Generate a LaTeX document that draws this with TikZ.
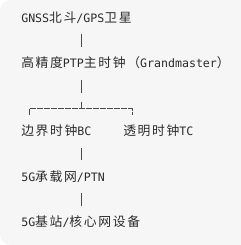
\documentclass[tikz,border=0pt]{standalone}
\usepackage{fontspec}
\setmainfont{DejaVu Sans Mono}
\newfontfamily\cjkfont{Noto Sans CJK SC}[LetterSpace=13]
\newcommand\zh[1]{{\cjkfont\fontsize{9.6pt}{12pt}\selectfont #1}}
\definecolor{codebg}{HTML}{F6F6F6}
\definecolor{codefg}{HTML}{2B2B2B}
\definecolor{rulefg}{HTML}{4A4A4A}

\begin{document}
\begin{tikzpicture}[x=0.75pt, y=-0.75pt,
    line/.style={anchor=west, inner sep=0pt, text=codefg,
      font=\fontsize{8.7pt}{10pt}\selectfont, text height=8pt, text depth=1.6pt},
    bar/.style={rulefg, line width=0.8pt, shorten <=7.35pt, shorten >=7.35pt},
    branch/.style={rulefg, line width=0.6pt, dash pattern=on 4.6pt off 0.65pt}]
  % Page and code block background.
  \useasboundingbox (0,0) rectangle (241,245);
  \fill[white] (0,0) rectangle (241,245);
  \fill[codebg, rounded corners=8pt] (0,0) rectangle (262,245);
  % Text lines, one row every 22.7px.
  \node[line] (gnss) at (21,18)    {GNSS\zh{北斗}/GPS\zh{卫星}};
  \node[line] (gm)   at (21,63.4)  {\zh{高精度}PTP\zh{主时钟（}Grandmaster\zh{）}};
  \node[line] (bc)   at (21,131.5) {\zh{边界时钟}BC};
  \node[line] (tc)   at (123,131.5) {\zh{透明时钟}TC};
  \node[line] (ptn)  at (21,176.9) {5G\zh{承载网}/PTN};
  \node[line] (bs)   at (21,222.3) {5G\zh{基站}/\zh{核心网设备}};
  % Column of the vertical bars and the fork.
  \coordinate (spine) at (81.5,0);
  \coordinate (fork) at (81.5,108.8);
  \coordinate (lend) at (29,108.8);
  \coordinate (rend) at (132,108.8);
  % Bars between the rows.
  \draw[bar] (gnss.south -| spine) -- (gm.north -| spine);
  \draw[bar, shorten >=12.15pt] (gm.south -| spine) -- (fork);
  \draw[rulefg, line width=0.8pt] (fork) -- ++(0,-6.8);
  \draw[branch] (lend) ++(0,6.2) -- (lend) -- (rend) -- ++(0,6.2);
  \draw[bar] (bc.south -| spine) -- (ptn.north -| spine);
  \draw[bar] (ptn.south -| spine) -- (bs.north -| spine);
\end{tikzpicture}
\end{document}
